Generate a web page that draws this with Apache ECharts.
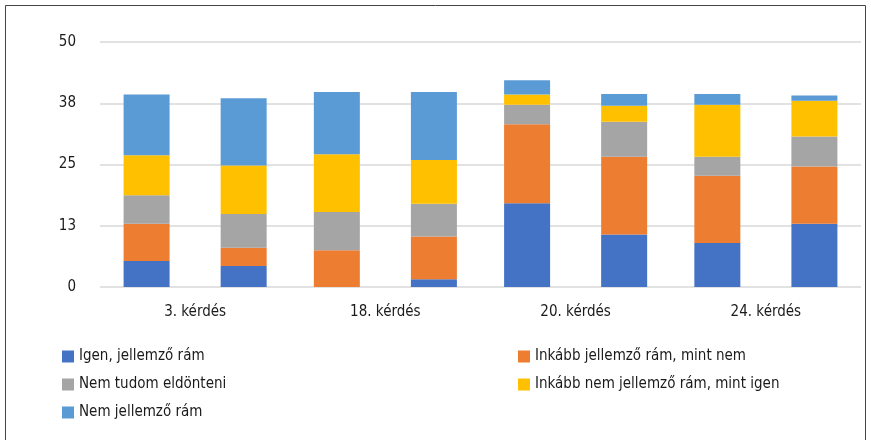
<!DOCTYPE html>
<html>
<head>
<meta charset="utf-8">
<script src="https://cdn.jsdelivr.net/npm/echarts@6/dist/echarts.min.js"></script>
<style>
  html, body { margin: 0; padding: 0; background: #fff; }
  #chart { width: 871px; height: 440px; }
</style>
</head>
<body>
<div id="chart"></div>
<script>
// kérdések (minden kérdéshez két oszlop tartozik)
var categories = ['3. kérdés', '18. kérdés', '20. kérdés', '24. kérdés'];

// értékek oszlopsorrendben (8 oszlop, balról jobbra)
var igen       = [5.3, 4.3, 0,    1.6,  17.1, 10.7, 9.0,  12.9];
var inkabbIgen = [7.6, 3.7, 7.5,  8.7,  16.1, 15.9, 13.7, 11.7];
var nemTudom   = [5.8, 6.9, 7.8,  6.7,  4.0,  7.1,  3.9,  6.1];
var inkabbNem  = [8.2, 9.9, 11.8, 8.9,  2.1,  3.3,  10.6, 7.3];
var nemJell    = [12.4, 13.7, 12.7, 13.9, 2.9, 2.4, 2.2,  1.1];

var yTicks = [0, 12.5, 25, 37.5, 50];

var names = ['Igen, jellemző rám', 'Inkább jellemző rám, mint nem', 'Nem tudom eldönteni',
             'Inkább nem jellemző rám, mint igen', 'Nem jellemző rám'];
var colors = ['#4472C4', '#ED7D31', '#A5A5A5', '#FFC000', '#5B9BD5'];
var values = [igen, inkabbIgen, nemTudom, inkabbNem, nemJell];

var font = "'Liberation Sans Narrow', 'DejaVu Sans Condensed', 'Roboto Condensed', sans-serif";

// páros / páratlan oszlopok szétválasztása
function pick(arr, off) {
	var out = [];
	for (var i = off; i < arr.length; i += 2) out.push(arr[i]);
	return out;
}

var series = [];
['A', 'B'].forEach(function (st, k) {
	for (var i = 0; i < names.length; i++) {
		series.push({
			name: names[i],
			type: 'bar',
			stack: st,
			barWidth: 46,
			barGap: '111%',
			itemStyle: { color: colors[i] },
			data: pick(values[i], k)
		});
	}
});

var myChart = echarts.init(document.getElementById('chart'));
myChart.setOption({
	animation: false,
	graphic: [{
		type: 'rect',
		shape: { x: 5.5, y: 5.5, width: 860, height: 440 },
		style: { fill: 'none', stroke: '#444', lineWidth: 1 },
		silent: true
	}],
	grid: { left: 100, right: 10, top: 42, bottom: 153 },
	legend: [{
		orient: 'vertical',
		left: 57, top: 344,
		itemWidth: 12, itemHeight: 12, itemGap: 13,
		icon: 'rect',
		textStyle: { fontFamily: font, fontSize: 15, color: '#1a1a1a' },
		data: [names[0], names[2], names[4]]
	}, {
		orient: 'vertical',
		left: 513, top: 344,
		itemWidth: 12, itemHeight: 12, itemGap: 13,
		icon: 'rect',
		textStyle: { fontFamily: font, fontSize: 15, color: '#1a1a1a' },
		data: [names[1], names[3]]
	}],
	xAxis: {
		type: 'category',
		data: categories,
		axisLine: { show: false },
		axisTick: { show: false },
		axisLabel: { margin: 18, fontFamily: font, fontSize: 15, color: '#1a1a1a' }
	},
	yAxis: {
		type: 'value',
		min: yTicks[0], max: yTicks[yTicks.length - 1], interval: 12.5,
		axisLine: { show: false },
		axisTick: { show: false },
		axisLabel: {
			margin: 24, fontFamily: font, fontSize: 15, color: '#1a1a1a',
			formatter: function (v) { return Math.round(v); }
		},
		splitLine: { lineStyle: { color: '#d9d9d9', width: 1.5 } }
	},
	series: series
});
</script>
</body>
</html>
